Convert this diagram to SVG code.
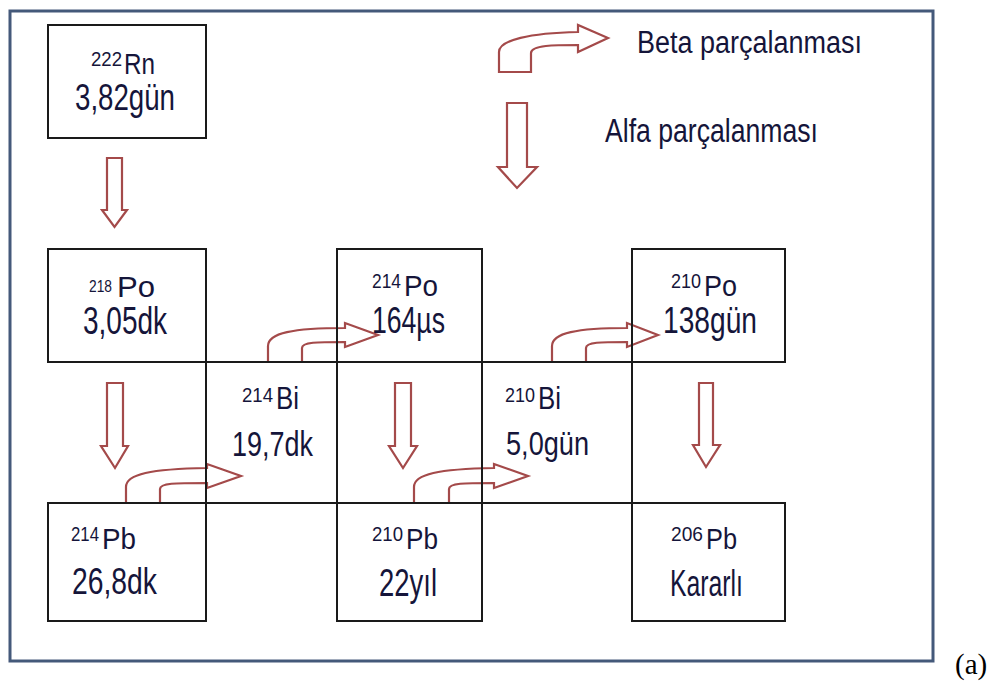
<svg xmlns="http://www.w3.org/2000/svg" width="994" height="682" viewBox="0 0 994 682">
<style>
.t{font-family:"Liberation Sans",Arial,sans-serif;fill:#15153a}
.box{fill:none;stroke:#1a1a1a;stroke-width:2}
.arr{fill:#fff;stroke:#a44a4a;stroke-width:2.2;stroke-linejoin:miter}
</style>
<rect x="0" y="0" width="994" height="682" fill="#fff"/>
<rect x="10" y="11" width="923" height="650" fill="none" stroke="#44597a" stroke-width="3"/>
<g id="legend">
<path class="arr" d="M499,72 L499,52 C499,40 530,33 578,32 L578,25 L608,38 L578,52 L578,45 C555,45 531,45 531,53 L531,72 Z"/>
<path class="arr" d="M507,103 L527,103 L527,167 L537,167 L517,188 L498,167 L507,167 Z"/>
<text class="t" x="637" y="53" font-size="31" textLength="225" lengthAdjust="spacingAndGlyphs">Beta parçalanması</text>
<text class="t" x="605" y="142" font-size="33" textLength="213" lengthAdjust="spacingAndGlyphs">Alfa parçalanması</text>
</g>
<g id="connectors">
<path class="arr" d="M107,158 L122,158 L122,210 L127,210 L114.5,227 L102,210 L107,210 Z"/>
<path class="arr" d="M107,383 L123,383 L123,446 L128,446 L115,468 L101,446 L107,446 Z"/>
<path class="arr" d="M395,383 L411,383 L411,446 L417,446 L403,468 L389,446 L395,446 Z"/>
<path class="arr" d="M699,383 L713,383 L713,445 L720,445 L706,467 L693,445 L699,445 Z"/>
<path class="arr" d="M126,503 L126,487 C126,474 151,469 207,468 L207,464 L241,476 L207,488 L207,483 C175,483 160,483 160,489 L160,503 Z"/>
<path class="arr" d="M268,362 L268,346 C268,333 293,328 345,328 L345,323 L378,335 L345,347 L345,342 C317,342 302,342 302,348 L302,362 Z"/>
<path class="arr" d="M414,503 L414,487 C414,474 439,469 494,468 L494,464 L528,476 L494,488 L494,483 C464,483 449,483 449,489 L449,503 Z"/>
<path class="arr" d="M552,362 L552,346 C552,333 577,328 627,328 L627,323 L658,335 L627,347 L627,342 C601,342 586,342 586,348 L586,362 Z"/>
</g>
<g id="rn222">
<rect class="box" x="48" y="25" width="158" height="113"/>
<text class="t"><tspan x="91" y="66" font-size="20" textLength="31" lengthAdjust="spacingAndGlyphs">222</tspan><tspan x="124" y="74" font-size="30" textLength="31" lengthAdjust="spacingAndGlyphs">Rn</tspan></text>
<text class="t" x="75" y="110" font-size="36" textLength="100" lengthAdjust="spacingAndGlyphs">3,82gün</text>
</g>
<g id="po218">
<rect class="box" x="48" y="249" width="158" height="113"/>
<text class="t"><tspan x="89" y="292" font-size="17" textLength="23" lengthAdjust="spacingAndGlyphs">218</tspan><tspan x="117" y="297" font-size="29" textLength="38" lengthAdjust="spacingAndGlyphs">Po</tspan></text>
<text class="t" x="83" y="334" font-size="38" textLength="84" lengthAdjust="spacingAndGlyphs">3,05dk</text>
</g>
<g id="po214">
<rect class="box" x="337" y="249" width="145" height="113"/>
<text class="t"><tspan x="372" y="288" font-size="21" textLength="29" lengthAdjust="spacingAndGlyphs">214</tspan><tspan x="404" y="296" font-size="29" textLength="34" lengthAdjust="spacingAndGlyphs">Po</tspan></text>
<text class="t" x="372" y="333" font-size="36" textLength="73" lengthAdjust="spacingAndGlyphs">164µs</text>
</g>
<g id="po210">
<rect class="box" x="632" y="249" width="153" height="113"/>
<text class="t"><tspan x="671" y="288" font-size="21" textLength="30" lengthAdjust="spacingAndGlyphs">210</tspan><tspan x="704" y="296" font-size="29" textLength="33" lengthAdjust="spacingAndGlyphs">Po</tspan></text>
<text class="t" x="663" y="333" font-size="36" textLength="94" lengthAdjust="spacingAndGlyphs">138gün</text>
</g>
<g id="bi214">
<rect class="box" x="206" y="362" width="131" height="141"/>
<text class="t"><tspan x="242" y="402" font-size="21" textLength="31" lengthAdjust="spacingAndGlyphs">214</tspan><tspan x="276" y="409" font-size="32" textLength="23" lengthAdjust="spacingAndGlyphs">Bi</tspan></text>
<text class="t" x="232" y="456" font-size="35" textLength="81" lengthAdjust="spacingAndGlyphs">19,7dk</text>
</g>
<g id="bi210">
<rect class="box" x="482" y="362" width="150" height="141"/>
<text class="t"><tspan x="505" y="402" font-size="21" textLength="30" lengthAdjust="spacingAndGlyphs">210</tspan><tspan x="538" y="409" font-size="32" textLength="23" lengthAdjust="spacingAndGlyphs">Bi</tspan></text>
<text class="t" x="506" y="455" font-size="34" textLength="83" lengthAdjust="spacingAndGlyphs">5,0gün</text>
</g>
<g id="pb214">
<rect class="box" x="48" y="503" width="158" height="118"/>
<text class="t"><tspan x="71" y="541" font-size="20" textLength="28" lengthAdjust="spacingAndGlyphs">214</tspan><tspan x="102" y="549" font-size="29" textLength="34" lengthAdjust="spacingAndGlyphs">Pb</tspan></text>
<text class="t" x="72" y="594" font-size="37" textLength="85" lengthAdjust="spacingAndGlyphs">26,8dk</text>
</g>
<g id="pb210">
<rect class="box" x="337" y="503" width="145" height="118"/>
<text class="t"><tspan x="372" y="541" font-size="21" textLength="31" lengthAdjust="spacingAndGlyphs">210</tspan><tspan x="406" y="549" font-size="29" textLength="32" lengthAdjust="spacingAndGlyphs">Pb</tspan></text>
<text class="t" x="379" y="596" font-size="38" textLength="58" lengthAdjust="spacingAndGlyphs">22yıl</text>
</g>
<g id="pb206">
<rect class="box" x="632" y="503" width="153" height="118"/>
<text class="t"><tspan x="671" y="541" font-size="21" textLength="32" lengthAdjust="spacingAndGlyphs">206</tspan><tspan x="706" y="549" font-size="29" textLength="31" lengthAdjust="spacingAndGlyphs">Pb</tspan></text>
<text class="t" x="670" y="596" font-size="36" textLength="73" lengthAdjust="spacingAndGlyphs">Kararlı</text>
</g>
<text x="955" y="674" font-family="'Liberation Serif','Times New Roman',serif" font-size="29" fill="#000">(a)</text>
</svg>
